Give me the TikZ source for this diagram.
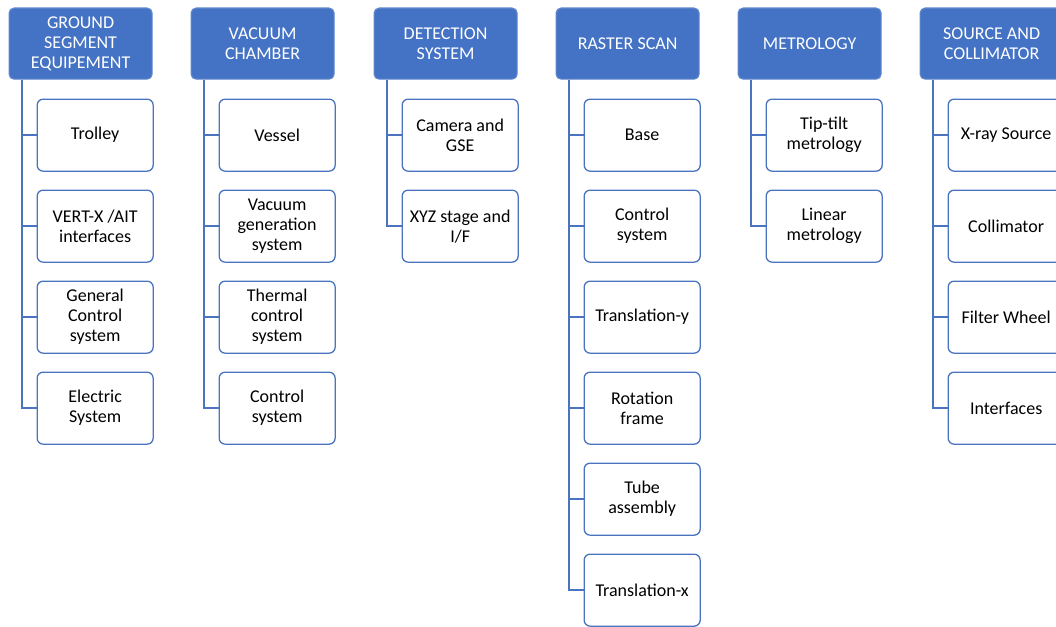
\documentclass[tikz,border=0pt]{standalone}
\usepackage{fontspec}
\setmainfont{Carlito}
\definecolor{hblue}{HTML}{4472C4}
\definecolor{lblue}{HTML}{4A74C0}
\begin{document}
\begin{tikzpicture}[x=1pt,y=-1pt,
  head/.style={draw=hblue!85!white,line width=1.2pt,fill=hblue,rounded corners=5pt,
    minimum width=143pt,minimum height=71pt,inner sep=0pt,anchor=north west,
    text=white,align=center,font=\fontsize{18}{20}\selectfont},
  child/.style={draw=lblue,line width=1.3pt,fill=white,rounded corners=6pt,
    minimum width=116pt,minimum height=72pt,inner sep=0pt,anchor=north west,
    text=black,align=center,font=\fontsize{18}{20}\selectfont},
  conn/.style={draw=lblue,line width=1.4pt}]
\useasboundingbox (0,0) rectangle (1056,626);
\clip (0,0) rectangle (1056,626);
% headers
\node[head] (h1) at (8.5,7.5) {GROUND\\SEGMENT\\EQUIPEMENT};
\node[head] (h2) at (190.5,7.5) {VACUUM\\CHAMBER};
\node[head] (h3) at (373.5,7.5) {DETECTION\\SYSTEM};
\node[head] (h4) at (555.5,7.5) {RASTER SCAN};
\node[head] (h5) at (737.5,7.5) {METROLOGY};
\node[head] (h6) at (919.5,7.5) {SOURCE AND\\COLLIMATOR};
% column 1
\node[child] (c1a) at (36.5,98.5) {Trolley};
\node[child] (c1b) at (36.5,189.5) {VERT-X /AIT\\interfaces};
\node[child] (c1c) at (36.5,280.5) {General\\Control\\system};
\node[child] (c1d) at (36.5,371.5) {Electric\\System};
% column 2
\node[child] (c2a) at (218.5,98.5) {Vessel};
\node[child] (c2b) at (218.5,189.5) {Vacuum\\generation\\system};
\node[child] (c2c) at (218.5,280.5) {Thermal\\control\\system};
\node[child] (c2d) at (218.5,371.5) {Control\\system};
% column 3
\node[child] (c3a) at (401.5,98.5) {Camera and\\GSE};
\node[child] (c3b) at (401.5,189.5) {XYZ stage and\\I/F};
% column 4
\node[child] (c4a) at (583.5,98.5) {Base};
\node[child] (c4b) at (583.5,189.5) {Control\\system};
\node[child] (c4c) at (583.5,280.5) {Translation-y};
\node[child] (c4d) at (583.5,371.5) {Rotation\\frame};
\node[child] (c4e) at (583.5,462.5) {Tube\\assembly};
\node[child] (c4f) at (583.5,553.5) {Translation-x};
% column 5
\node[child] (c5a) at (765.5,98.5) {Tip-tilt\\metrology};
\node[child] (c5b) at (765.5,189.5) {Linear\\metrology};
% column 6
\node[child] (c6a) at (947.5,98.5) {X-ray Source};
\node[child] (c6b) at (947.5,189.5) {Collimator};
\node[child] (c6c) at (947.5,280.5) {Filter Wheel};
\node[child] (c6d) at (947.5,371.5) {Interfaces};
% connectors
\foreach \h/\list in {h1/{c1a,c1b,c1c,c1d},h2/{c2a,c2b,c2c,c2d},h3/{c3a,c3b},
  h4/{c4a,c4b,c4c,c4d,c4e,c4f},h5/{c5a,c5b},h6/{c6a,c6b,c6c,c6d}}{
  \foreach \c in \list {
    \draw[conn] ([xshift=13.5pt]\h.south west) |- (\c.west);
  }
}
\end{tikzpicture}
\end{document}
